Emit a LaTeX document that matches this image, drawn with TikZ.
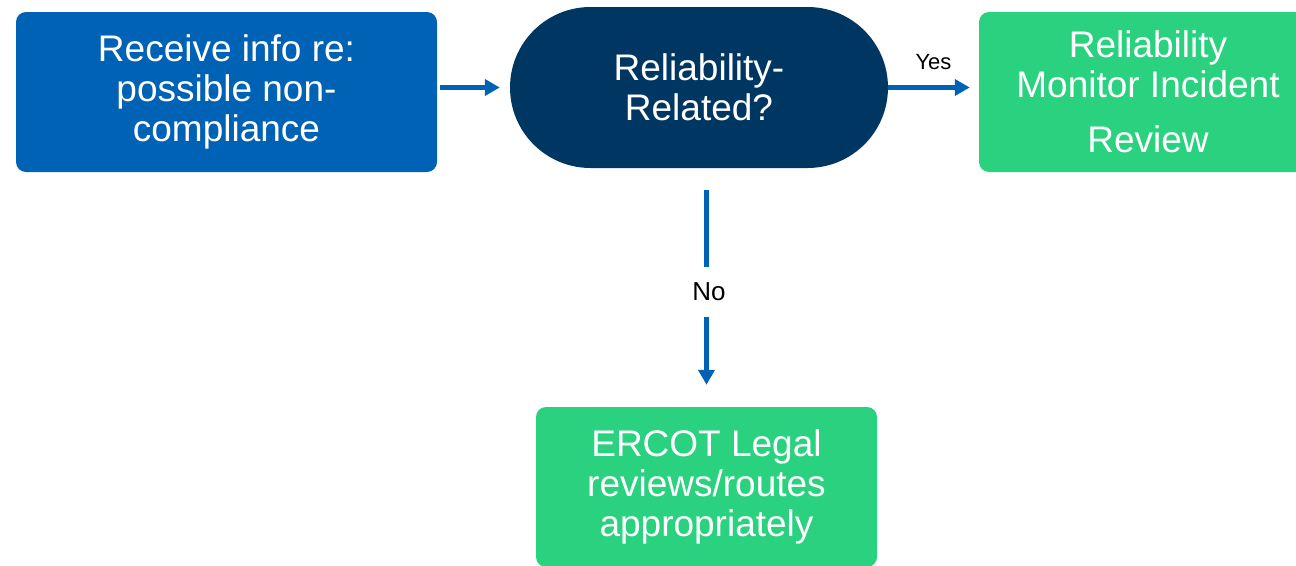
\documentclass[tikz,border=0pt]{standalone}
\usepackage{fontspec}
\setmainfont{Liberation Sans}
\usetikzlibrary{arrows.meta}
\usetikzlibrary{shapes.misc}
\definecolor{ercotBlue}{RGB}{0,98,180}
\definecolor{ercotNavy}{RGB}{0,54,98}
\definecolor{ercotGreen}{RGB}{42,209,127}

\begin{document}
\begin{tikzpicture}[x = 1pt, y = -1pt]
\tikzstyle{boxStyle}=[shape = rectangle, rounded corners = 10pt, inner sep = 0pt, align = center, text = white, font = \fontsize{37}{40}\selectfont]
\tikzstyle{startStyle}=[boxStyle, fill = ercotBlue, minimum width = 421pt, minimum height = 160pt]
\tikzstyle{decisionStyle}=[shape = rounded rectangle, inner sep = 0pt, align = center, text = white, font = \fontsize{37}{40}\selectfont, fill = ercotNavy, minimum width = 378pt, minimum height = 161pt]
\tikzstyle{outcomeStyle}=[boxStyle, fill = ercotGreen, minimum height = 160pt]
\tikzstyle{flowStyle}=[draw = ercotBlue, line width = 5pt, -{Triangle[length = 15pt, width = 16pt]}]
\tikzstyle{answerStyle}=[fill = white, inner sep = 0pt, font = \fontsize{26}{28}\selectfont]
\useasboundingbox (0,0) rectangle (1296,565);
\node[startStyle] (receive) at (226.5,92) {Receive info re:\\possible non-\\compliance};
\node[decisionStyle] (related) at (699,87.5) {Reliability-\\Related?};
\node[outcomeStyle, minimum width = 338pt] (monitor) at (1148,92) {Reliability\\Monitor Incident\\[15pt]Review};
\node[outcomeStyle, minimum width = 341pt] (legal) at (706.5,487) {ERCOT Legal\\reviews/routes\\appropriately};
\draw[flowStyle, shorten < = 3pt, shorten > = 10pt] (receive.east |- related.west) -- (related.west);
\draw[flowStyle, shorten > = 9pt] (related.east) -- node[above = 12pt, font = \fontsize{22}{24}\selectfont] (yes) {Yes} (related.east -| monitor.west);
\draw[flowStyle, shorten < = 22pt, shorten > = 22pt] (legal.north |- related.south) -- (legal.north);
\node[answerStyle, minimum height = 50pt, minimum width = 36pt] (no) at (709,292) {No};
\end{tikzpicture}
\end{document}
